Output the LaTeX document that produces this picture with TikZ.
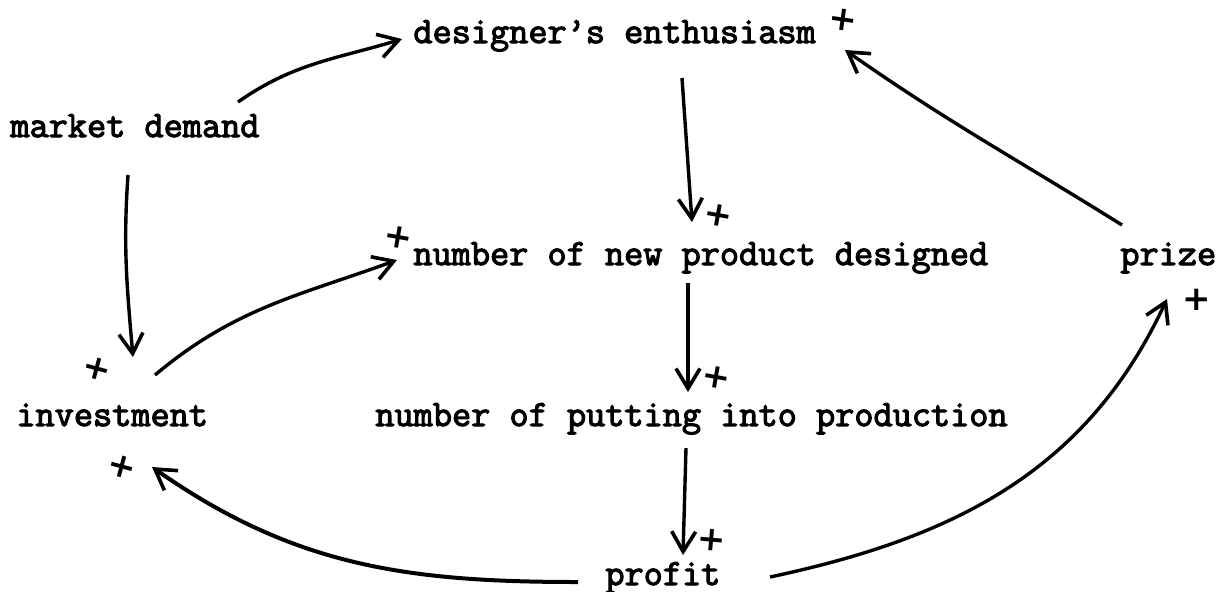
\documentclass[tikz,border=0pt]{standalone}
\usepackage{fontspec}
\usetikzlibrary{arrows.meta}
\newfontfamily\typew[FakeBold=3]{Latin Modern Mono}
\newfontfamily\plusfont{DejaVu Sans}
\begin{document}
\begin{tikzpicture}[x=0.5pt,y=0.5pt,
  lbl/.style={anchor=base west,inner sep=0pt,font=\typew\fontsize{18.6}{21}\selectfont},
  pol/.style={inner sep=0pt,font=\plusfont\bfseries\fontsize{17}{17}\selectfont},
  arr/.style={line width=1.7pt,-{Straight Barb[length=10pt,width=12pt,line width=1.8pt]}}]
\useasboundingbox (0,0) rectangle (1227,-591);
% variables
\node[lbl] (de)  at (413,-43)  {designer’s enthusiasm};
\node[lbl] (md)  at (10,-137)  {market demand};
\node[lbl] (nn)  at (413,-265) {number of new product designed};
\node[lbl] (pz)  at (1120,-265) {prize};
\node[lbl] (inv) at (16,-426)  {investment};
\node[lbl] (np)  at (375,-426) {number of putting into production};
\node[lbl] (pf)  at (605,-585) {profit};
% polarity signs
\node[pol,rotate=-8] (p1) at (843,-20)  {+};
\node[pol,rotate=-10] (p2) at (398,-237) {+};
\node[pol,rotate=-10] (p3) at (718,-215) {+};
\node[pol] (p4) at (1197,-300) {+};
\node[pol,rotate=-15] (p5) at (97,-369)  {+};
\node[pol,rotate=-10] (p6) at (716,-377) {+};
\node[pol,rotate=-15] (p7) at (122,-467) {+};
\node[pol,rotate=-5] (p8) at (712,-540) {+};
% links
\draw[arr] ([shift={(228,35)}]md.base west) to[out=35,in=197] ([shift={(-11,4)}]de.base west);
\draw[arr] ([shift={(118,-38)}]md.base west) to[out=266,in=95] ([shift={(117,69)}]inv.base west);
\draw[arr] ([shift={(139,51)}]inv.base west) to[out=40,in=200] ([shift={(-16,5)}]nn.base west);
\draw[arr] ([shift={(269,-35)}]de.base west) -- ([shift={(279,43)}]nn.base west);
\draw[arr] ([shift={(275,-18)}]nn.base west) -- ([shift={(313,34)}]np.base west);
\draw[arr] ([shift={(311,-22)}]np.base west) -- ([shift={(78,30)}]pf.base west);
\draw[arr,line width=2pt] ([shift={(-27,3)}]pf.base west) to[out=180,in=-35] ([shift={(136,-41)}]inv.base west);
\draw[arr] ([shift={(165,8)}]pf.base west) to[out=12,in=245] ([shift={(47,-34)}]pz.base west);
\draw[arr] ([shift={(2,40)}]pz.base west) to[out=148,in=-35] ([shift={(432,-7)}]de.base west);
\end{tikzpicture}
\end{document}
